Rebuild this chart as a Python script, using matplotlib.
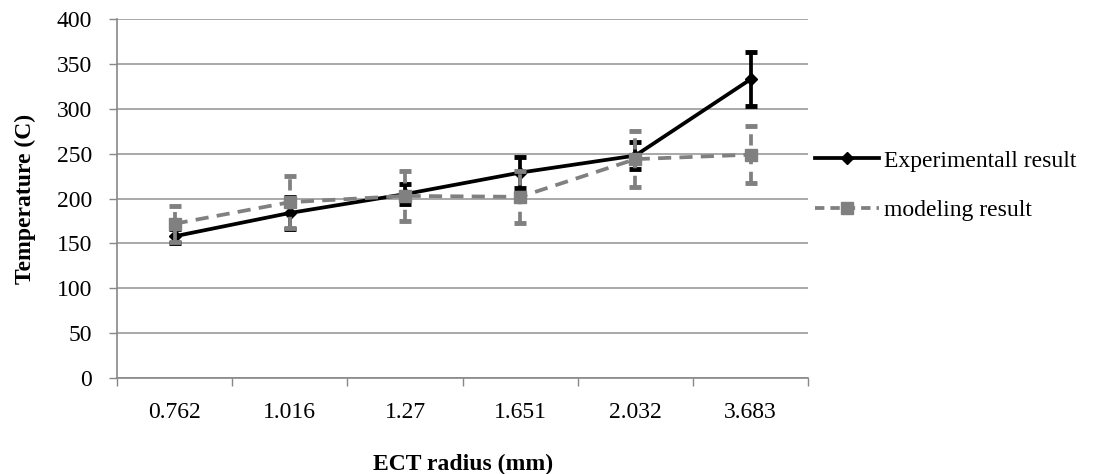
import matplotlib.pyplot as plt
from matplotlib.lines import Line2D
import numpy as np

# ECT radius categories and measured / modelled temperatures
radius_labels = ['0.762', '1.016', '1.27', '1.651', '2.032', '3.683']
exp_temp = [158, 184, 205, 229, 248, 333]
exp_err = [8, 18, 11, 17, 15, 30]
model_temp = [172, 196, 203, 202, 244, 249]
model_err = [20, 29, 28, 29, 31, 32]

plt.rcParams['font.family'] = ['Liberation Serif', 'DejaVu Serif']
FS = 17
GREY = '#808080'
LW = 2.7

fig = plt.figure(figsize=(10.97, 4.74), dpi=100)
ax = fig.add_axes([0.1067, 0.2025, 0.63, 0.757])

x = np.arange(len(radius_labels))

# experimental series (solid black, diamonds)
ax.errorbar(x, exp_temp, yerr=exp_err, color='black', linewidth=LW,
            marker='D', markersize=6.5, capsize=4, capthick=3.5,
            elinewidth=LW, zorder=3)

# modelling series (dashed grey, squares)
eb = ax.errorbar(x, model_temp, yerr=model_err, color=GREY, linewidth=LW,
                 linestyle='--', dashes=(3.5, 2.2), marker='s', markersize=8,
                 capsize=4, capthick=3.5, elinewidth=LW, zorder=4)
eb[-1][0].set_linestyle((0, (3, 2)))

ax.set_ylim(0, 400)
ax.set_yticks(np.arange(0, 401, 50))
ax.set_xlim(-0.5, len(radius_labels) - 0.5)
ax.set_xticks(x)
ax.set_xticklabels(radius_labels)
ax.set_xticks(np.arange(-0.5, len(radius_labels)), minor=True)
ax.tick_params(axis='x', which='major', length=0, pad=17, labelsize=FS)
ax.tick_params(axis='x', which='minor', length=6, color='#888888', width=1)
ax.tick_params(axis='y', length=6, color='#888888', width=1, labelsize=FS,
               pad=12)

ax.grid(axis='y', color='#999999', linewidth=1.2)
ax.set_axisbelow(True)
for side in ['top', 'right']:
    ax.spines[side].set_visible(False)
for side in ['left', 'bottom']:
    ax.spines[side].set_color('#888888')
    ax.spines[side].set_linewidth(1.2)

ax.set_ylabel('Temperature (C)', fontsize=FS, fontweight='bold', va='center')
ax.yaxis.set_label_coords(-0.133, 0.5)
ax.set_xlabel('ECT radius (mm)', fontsize=FS, fontweight='bold', va='center')
ax.xaxis.set_label_coords(0.5, -0.242)

handles = [
    Line2D([], [], color='black', linewidth=LW, marker='D', markersize=6.5),
    Line2D([], [], color=GREY, linewidth=LW, linestyle='--', dashes=(2.5, 1.6),
           marker='s', markersize=8),
]
ax.legend(handles, ['Experimentall result', 'modeling result'],
          loc='center left', bbox_to_anchor=(1.0, 0.536), frameon=False,
          fontsize=FS, handlelength=2.7, labelspacing=1.2,
          handletextpad=0.2, borderaxespad=0, borderpad=0.3)

fig.savefig('out.png', dpi=100)
